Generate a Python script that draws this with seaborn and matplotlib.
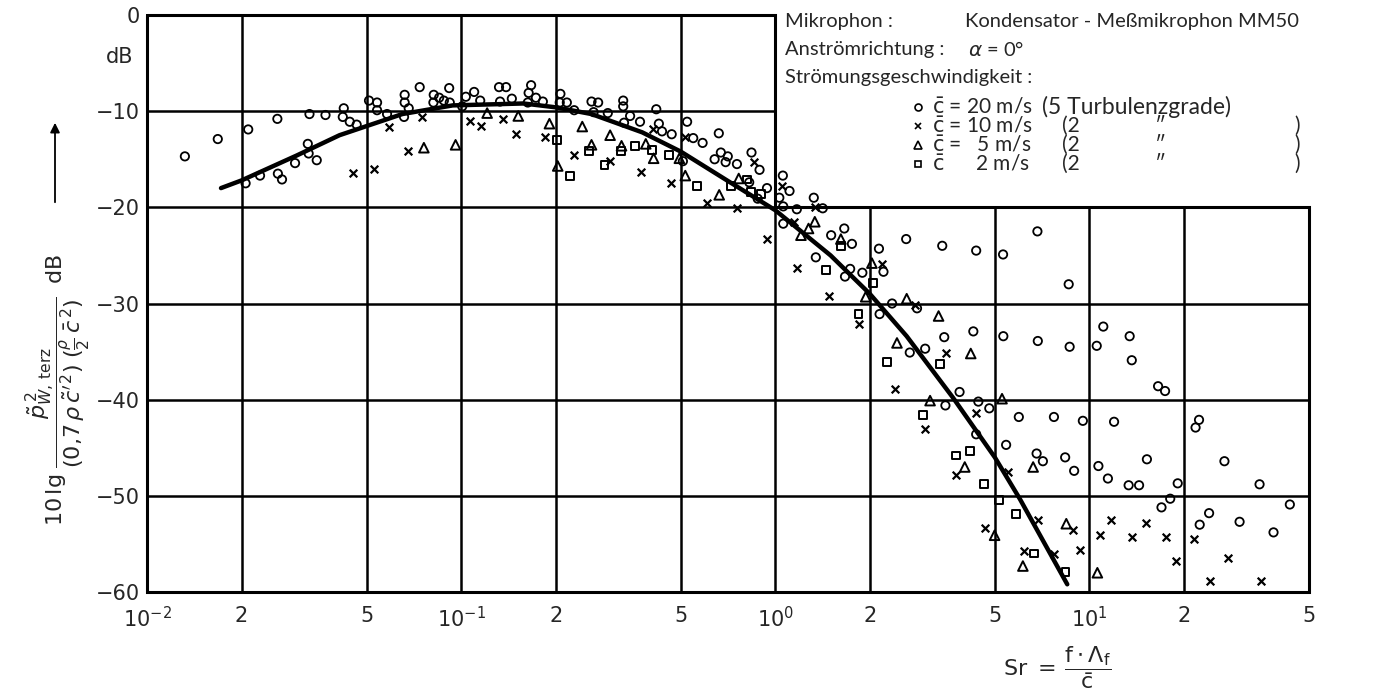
import numpy as np
import pandas as pd
import matplotlib
matplotlib.use("Agg")
import matplotlib.pyplot as plt
from matplotlib.lines import Line2D
import seaborn as sns

# ---------------- data ----------------
# c = 20 m/s (circles)
c20_x = [0.0132, 0.0168, 0.0210, 0.0260, 0.0206, 0.0229, 0.0261, 0.0269, 0.0296, 0.0325,
         0.0327, 0.0347, 0.0329, 0.0370, 0.0423, 0.0420, 0.0442, 0.0465, 0.0509, 0.0540,
         0.0540, 0.0581, 0.0661, 0.0661, 0.0681, 0.0658, 0.0738, 0.0818, 0.0851, 0.0816,
         0.0881, 0.0916, 0.0920,
         0.1035, 0.110, 0.132, 0.139, 0.115, 0.133, 0.145, 0.167, 0.164, 0.173,
         0.182, 0.163, 0.207, 0.206, 0.217, 0.229, 0.260, 0.273, 0.264, 0.293,
         0.328, 0.328, 0.330, 0.1008,
         0.418, 0.345, 0.371, 0.426, 0.436, 0.468, 0.524, 0.548, 0.587, 0.661,
         0.671, 0.641, 0.706, 0.695, 0.755, 0.840, 0.891, 0.508, 0.826, 0.941,
         1.057, 1.11, 1.03, 1.06, 1.171, 0.879, 1.326, 1.416, 1.06, 1.658,
         1.506, 1.754, 1.346, 1.731, 1.667, 1.893, 2.138, 2.21, 2.61, 2.354,
         2.826, 2.148, 3.45, 4.27, 5.32, 2.68, 3.0, 3.86, 3.48, 4.43,
         4.80, 4.36, 5.43, 3.40, 4.36, 5.31, 6.83, 8.59, 6.85, 8.65,
         10.55, 11.07, 13.43, 13.64, 16.54, 17.41, 5.96, 7.71, 9.53, 11.98,
         21.77, 22.33, 6.79, 7.11, 8.37, 8.94, 10.68, 11.45, 15.24, 13.33,
         14.39, 19.10, 26.9, 34.8, 18.08, 16.96, 24.04, 22.44, 30.06, 38.55,
         43.45]
c20_y = [-14.7, -12.9, -11.9, -10.8, -17.5, -16.7, -16.5, -17.1, -15.4, -13.4,
         -14.4, -15.1, -10.3, -10.4, -9.7, -10.6, -11.1, -11.4, -8.9, -9.1,
         -9.9, -10.3, -8.3, -9.1, -9.7, -10.6, -7.5, -8.3, -8.6, -9.1,
         -8.9, -7.6, -9.1,
         -8.5, -8.0, -7.5, -7.5, -8.9, -9.0, -8.7, -7.3, -8.1, -8.6,
         -9.0, -9.1, -8.2, -9.1, -9.1, -9.9, -9.0, -9.1, -10.1, -10.2,
         -8.9, -9.5, -11.2, -9.5,
         -9.8, -10.5, -11.1, -11.3, -12.1, -12.4, -11.1, -12.8, -13.3, -12.3,
         -14.3, -15.0, -14.7, -15.3, -15.5, -14.3, -16.1, -15.2, -17.4, -18.0,
         -16.7, -18.3, -19.0, -19.9, -20.2, -19.1, -19.0, -20.1, -21.7, -22.2,
         -22.9, -23.8, -25.2, -26.4, -27.2, -26.8, -24.3, -26.7, -23.3, -30.0,
         -30.5, -31.1, -33.5, -32.9, -33.4, -35.1, -34.7, -39.2, -40.6, -40.2,
         -40.9, -43.6, -44.7, -24.0, -24.5, -24.9, -22.5, -28.0, -33.9, -34.5,
         -34.4, -32.4, -33.4, -35.9, -38.6, -39.1, -41.8, -41.8, -42.2, -42.3,
         -42.9, -42.1, -45.6, -46.4, -46.0, -47.4, -46.9, -48.2, -46.2, -48.9,
         -48.9, -48.7, -46.4, -48.8, -50.3, -51.2, -51.8, -53.0, -52.7, -53.8,
         -50.9]

# c = 10 m/s (crosses)
c10_x = [0.0451, 0.0527, 0.0590, 0.0676, 0.0752, 0.107, 0.116, 0.136, 0.149, 0.185,
         0.229, 0.298, 0.407, 0.517, 0.373, 0.465, 0.607, 0.755, 0.858, 1.049,
         1.336, 0.944, 1.176, 1.479, 2.19, 1.147, 2.79, 1.85, 3.49, 2.40,
         4.36, 3.0, 3.77, 4.64, 5.52, 6.85, 8.87, 9.33, 6.19, 7.71,
         10.82, 11.68, 13.67, 15.13, 17.54, 18.93, 21.6, 24.2, 27.6, 35.2]
c10_y = [-16.4, -16.0, -11.6, -14.1, -10.6, -11.0, -11.5, -10.8, -12.4, -12.7,
         -14.6, -15.2, -11.9, -12.7, -16.3, -17.5, -19.5, -20.1, -15.3, -17.8,
         -20.0, -23.3, -26.3, -29.2, -25.9, -21.5, -30.2, -32.1, -35.1, -38.9,
         -41.4, -43.0, -47.8, -53.3, -47.5, -52.5, -53.6, -55.6, -55.7, -56.0,
         -54.1, -52.5, -54.3, -52.8, -54.3, -56.8, -54.5, -58.9, -56.5, -58.9]

# c = 5 m/s (triangles)
c5_x = [0.0761, 0.0960, 0.121, 0.152, 0.191, 0.203, 0.243, 0.260, 0.298, 0.324,
        0.387, 0.410, 0.495, 0.517, 0.663, 0.765, 1.336, 1.207, 1.617, 2.03,
        1.94, 2.62, 1.276, 3.31, 2.44, 4.19, 3.11, 5.27, 4.01, 4.99,
        6.62, 8.44, 6.14, 10.6]
c5_y = [-13.8, -13.5, -10.2, -10.5, -11.3, -15.7, -11.6, -13.5, -12.5, -13.6,
        -13.4, -14.9, -14.9, -16.7, -18.7, -17.0, -21.5, -22.9, -23.3, -25.8,
        -29.3, -29.5, -22.2, -31.3, -34.1, -35.2, -40.1, -39.9, -47.0, -54.1,
        -47.0, -52.9, -57.3, -58.0]

# c = 2 m/s (squares)
c2_x = [0.202, 0.222, 0.255, 0.286, 0.322, 0.357, 0.404, 0.458, 0.565, 0.724,
        0.815, 0.836, 0.902, 1.617, 1.453, 2.047, 1.84, 2.266, 3.34, 2.96,
        3.75, 4.16, 4.62, 5.16, 5.83, 6.66, 8.39]
c2_y = [-13.0, -16.7, -14.1, -15.6, -14.1, -13.6, -14.0, -14.6, -17.8, -17.8,
        -17.1, -18.4, -18.6, -24.0, -26.5, -27.9, -31.1, -36.1, -36.3, -41.6,
        -45.8, -45.3, -48.8, -50.4, -51.9, -56.0, -57.9]

# mean curve
curve_x = [0.0172, 0.02, 0.03, 0.041, 0.065, 0.094, 0.158, 0.2, 0.26, 0.377,
           0.5, 0.71, 1.0, 1.5, 2.0, 2.62, 3.68, 5.0, 6.0, 8.5]
curve_y = [-18.0, -17.2, -14.6, -12.5, -10.3, -9.4, -9.2, -9.6, -10.3, -12.2,
           -14.2, -17.3, -20.3, -25.0, -29.0, -33.4, -39.8, -46.0, -50.3, -59.2]

# axes ticks / labels
x_ticks = [0.01, 0.02, 0.05, 0.1, 0.2, 0.5, 1, 2, 5, 10, 20, 50]
x_ticklabels = [r"$10^{-2}$", "2", "5", r"$10^{-1}$", "2", "5",
                r"$10^{0}$", "2", "5", r"$10^{1}$", "2", "5"]
y_ticks = [0, -10, -20, -30, -40, -50, -60]
y_ticklabels = ["0", "\u221210", "\u221220", "\u221230", "\u221240", "\u221250", "\u221260"]

# grid structure (the upper right corner is left open for the text block)
grid_x_full = [0.02, 0.05, 0.1, 0.2, 0.5, 1.0]
grid_x_lower = [2, 5, 10, 20]
grid_y_full = [-20, -30, -40, -50]
grid_y_left = [-10]

series_speed = [r"$\bar{\mathrm{c}}$ = 20 m/s", r"$\bar{\mathrm{c}}$ = 10 m/s",
                r"$\bar{\mathrm{c}}$ =   5 m/s", r"$\bar{\mathrm{c}}$      2 m/s"]
series_note = ["(5 Turbulenzgrade)", "(2", "(2", "(2"]

# ---------------- figure ----------------
sns.set_theme(style="white")
plt.rcParams['font.family'] = ['DejaVu Sans']
plt.rcParams['mathtext.fontset'] = 'dejavusans'
block_font = ['Lato', 'DejaVu Sans']

W, H = 1388, 697
fig = plt.figure(figsize=(W / 100, H / 100), dpi=100)
x0, x1, yt, yb = 147, 1309, 15, 592
ax = fig.add_axes([x0 / W, 1 - yb / H, (x1 - x0) / W, (yb - yt) / H])
ax.set_xscale("log")
ax.set_xlim(0.01, 50)
ax.set_ylim(-60, 0)
for s in ax.spines.values():
    s.set_visible(False)
ax.grid(False)

lw = 1.8
xmin, xmax = 0.01, 50
# frame
ax.plot([xmin, 1.0, 1.0, xmax, xmax, xmin, xmin], [0, 0, -20, -20, -60, -60, 0],
        color="black", lw=2.2, clip_on=False, solid_joinstyle="miter")
for gx in grid_x_full:
    ax.plot([gx, gx], [0, -60], color="black", lw=lw)
for gx in grid_x_lower:
    ax.plot([gx, gx], [-20, -60], color="black", lw=lw)
for gy in grid_y_full:
    ax.plot([xmin, xmax], [gy, gy], color="black", lw=lw)
for gy in grid_y_left:
    ax.plot([xmin, 1.0], [gy, gy], color="black", lw=lw)

# data
sns.scatterplot(x=c20_x, y=c20_y, marker="o", s=36, color="black", facecolors="none",
                edgecolors="black", linewidth=1.3, ax=ax, zorder=3)
sns.scatterplot(x=c10_x, y=c10_y, marker="x", s=30, color="black", linewidth=1.6,
                ax=ax, zorder=3)
sns.scatterplot(x=c5_x, y=c5_y, marker="^", s=48, color="black", facecolors="none",
                edgecolors="black", linewidth=1.4, ax=ax, zorder=3)
sns.scatterplot(x=c2_x, y=c2_y, marker="s", s=32, color="black", facecolors="none",
                edgecolors="black", linewidth=1.4, ax=ax, zorder=3)
sns.lineplot(x=curve_x, y=curve_y, color="black", linewidth=3.2, sort=False,
             estimator=None, ax=ax, zorder=4)

ax.set_xticks(x_ticks)
ax.set_xticklabels(x_ticklabels, fontsize=15)
ax.minorticks_off()
ax.set_yticks(y_ticks)
ax.set_yticklabels(y_ticklabels, fontsize=15)
ax.tick_params(axis="both", length=0)
ax.tick_params(axis="x", pad=10)
ax.tick_params(axis="y", pad=5)


def fx(px):
    return px / W


def fy(py):
    return 1 - py / H


fig.text(fx(120), fy(57), "dB", fontsize=15, ha="center", va="center")

# y-axis label
ylab = (r"$10\,\mathrm{lg}\;\dfrac{\tilde{p}^{\,2}_{W,\,\mathrm{terz}}}"
        r"{(0{,}7\,\rho\,\tilde{c}^{\prime\,2})\;(\frac{\rho}{2}\,\bar{c}^{\,2})}"
        r"\;\;\mathrm{dB}$")
fig.text(fx(58), fy(390), ylab, rotation=90, fontsize=16, ha="center", va="center")
fig.add_artist(matplotlib.patches.FancyArrowPatch(
    (fx(55), fy(205)), (fx(55), fy(120)), transform=fig.transFigure,
    arrowstyle="-|>", mutation_scale=14, color="black", lw=1.3))

# x-axis label
fig.text(fx(1003), fy(668), r"Sr $=\,\dfrac{\mathrm{f}\cdot\Lambda_{\mathrm{f}}}{\bar{\mathrm{c}}}$",
         fontsize=16, ha="left", va="center")

# text block
tfs = 14.5
fig.text(fx(785), fy(22), "Mikrophon :", fontsize=tfs, va="center", family=block_font)
fig.text(fx(965), fy(22), "Kondensator - Meßmikrophon MM50", fontsize=tfs,
         va="center", ha="left", family=block_font)
fig.text(fx(785), fy(50), "Anströmrichtung :", fontsize=tfs, va="center", family=block_font)
fig.text(fx(968), fy(50), r"$\alpha$ = 0°", fontsize=tfs, va="center", family=block_font)
fig.text(fx(785), fy(78), "Strömungsgeschwindigkeit :", fontsize=tfs, va="center",
         family=block_font)

row_y = [107, 126, 145, 164]
row_markers = [("o", 5, "none"), ("x", 5, "black"), ("^", 5.5, "none"), ("s", 4.5, "none")]
rfs = 15
for i, (sp, note, ry, (mk, ms, fc)) in enumerate(zip(series_speed, series_note, row_y,
                                                        row_markers)):
    fig.add_artist(Line2D([fx(918)], [fy(ry)], marker=mk, markersize=ms,
                          markerfacecolor=fc, markeredgecolor="black",
                          markeredgewidth=1.2, linestyle="none",
                          transform=fig.transFigure))
    fig.text(fx(932), fy(ry), sp, fontsize=rfs, va="center", family=block_font)
    if i == 0:
        fig.text(fx(1042), fy(ry), note, fontsize=rfs + 1.5, va="center", ha="left",
                 family=block_font)
    else:
        fig.text(fx(1062), fy(ry), note, fontsize=rfs, va="center", ha="left",
                 family=block_font)
        fig.text(fx(1160), fy(ry), "\u2033", fontsize=rfs, va="center", ha="center",
                 family=block_font)
        fig.text(fx(1297), fy(ry), ")", fontsize=rfs, va="center", ha="center",
                 family=block_font)

fig.savefig("out.png", dpi=100)
